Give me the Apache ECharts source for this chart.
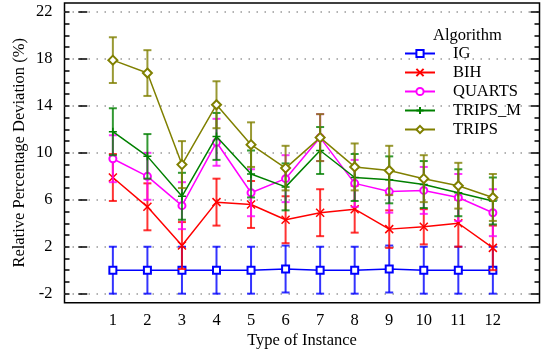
<!DOCTYPE html>
<html><head><meta charset="utf-8">
<script src="https://cdn.jsdelivr.net/npm/echarts@6/dist/echarts.min.js"></script>
<style>html,body{margin:0;padding:0;background:#fff}#c{width:541px;height:353px}</style>
</head><body><div id="c"></div>
<script>
const categories = [1,2,3,4,5,6,7,8,9,10,11,12];
const seriesNames = ['IG','BIH','QUARTS','TRIPS_M','TRIPS'];
const igValues = [0,0,0,0,0,0.1,0,0,0.1,0,0,0];
const igErrors = [2,2,2,2,2,2,2,2,2,2,2,2];
const bihValues = [7.9,5.4,2.1,5.8,5.6,4.3,4.9,5.2,3.5,3.7,4.0,1.9];
const bihErrors = [2,2,2,2,2,2,2,2,1.6,1.5,2,1.9];
const quartsValues = [9.5,8.0,5.5,10.9,6.6,7.8,11.3,7.4,6.7,6.8,6.2,4.9];
const quartsErrors = [2,2,2,2,2,2,2,2,1.8,2,2,2];
const tripsMValues = [11.8,9.7,6.3,11.4,8.2,7.1,10.2,7.9,7.7,7.3,6.6,5.9];
const tripsMErrors = [2,1.9,2,2,2,2,2,2,2,2,2,2];
const tripsValues = [17.9,16.8,9.0,14.1,10.7,8.7,11.3,8.8,8.5,7.8,7.2,6.2];
const tripsErrors = [1.95,1.95,2,2,1.9,1.9,2,2,2.1,2,1.95,2];
const yTickLabels = [-2,2,6,10,14,18,22];
const yMinorTicks = [-2,-1,0,1,2,3,4,5,6,7,8,9,10,11,12,13,14,15,16,17,18,19,20,21,22];

const colors = ['#0000ff','#ff0000','#ff00ff','#008000','#808000'];
const symbols = ['emptyRect','path://M0,0L10,10M10,0L0,10','emptyCircle','path://M5,0L5,10M0,5L10,5','emptyDiamond'];
const symSizes = [7,8,7,8,9];
const allValues = [igValues,bihValues,quartsValues,tripsMValues,tripsValues];
const allErrors = [igErrors,bihErrors,quartsErrors,tripsMErrors,tripsErrors];

const FONT = 'Liberation Serif';
const FS = 16.5;
const YMIN = -2.77, YMAX = 22.77;

function errRenderer(color){
  return function(params, api){
    const x = api.value(0), lo = api.value(1), hi = api.value(2);
    const p1 = api.coord([x, hi]), p2 = api.coord([x, lo]);
    const w = 4;
    const style = {stroke: color, lineWidth: 2, opacity: 0.8};
    return {type:'group', children:[
      {type:'line', shape:{x1:p1[0],y1:p1[1],x2:p2[0],y2:p2[1]}, style},
      {type:'line', shape:{x1:p1[0]-w,y1:p1[1],x2:p1[0]+w,y2:p1[1]}, style},
      {type:'line', shape:{x1:p2[0]-w,y1:p2[1],x2:p2[0]+w,y2:p2[1]}, style}
    ]};
  };
}

const series = [];
seriesNames.forEach((name, i) => {
  series.push({
    name: name + '_err', type: 'custom', xAxisIndex: 0, yAxisIndex: 0,
    renderItem: errRenderer(colors[i]),
    encode: {x: 0, y: [1, 2]},
    data: categories.map((c, k) => [c, allValues[i][k] - allErrors[i][k], allValues[i][k] + allErrors[i][k]]),
    z: 2 + i*2, silent: true
  });
  series.push({
    name: name, type: 'line', xAxisIndex: 0, yAxisIndex: 0,
    data: categories.map((c, k) => [c, allValues[i][k]]),
    symbol: symbols[i], symbolSize: symSizes[i],
    lineStyle: {color: colors[i], width: 1.5},
    itemStyle: {color: colors[i], borderColor: colors[i], borderWidth: 1.5},
    z: 3 + i*2, animation: false
  });
});

const yBase = {type:'value', min: YMIN, max: YMAX, gridIndex: 0};
const chart = echarts.init(document.getElementById('c'));
chart.setOption({
  animation: false,
  textStyle: {fontFamily: FONT},
  title: {text: 'Algorithm', left: 428, top: 22, textStyle: {fontFamily: FONT, fontSize: FS, fontWeight: 'normal', color: '#000'}},
  legend: {
    data: seriesNames, orient: 'vertical', left: 399, top: 40,
    itemWidth: 30, itemHeight: 9, itemGap: 2,
    textStyle: {fontFamily: FONT, fontSize: FS, color: '#000', padding: [0,0,0,13]}
  },
  grid: {left: 64.5, right: 1.5, top: 3, bottom: 50.3, outerBoundsMode: 'none', containLabel: false,
         show: true, borderColor: '#000', borderWidth: 1.5, backgroundColor: 'transparent'},
  xAxis: [{
    type: 'value', min: -0.4, max: 13.35,
    name: 'Type of Instance', nameLocation: 'middle', nameGap: 29, nameMoveOverlap: false,
    nameTextStyle: {fontFamily: FONT, fontSize: FS, color: '#000'},
    axisLine: {show: false}, axisTick: {show: false}, splitLine: {show: false},
    axisLabel: {customValues: categories, fontFamily: FONT, fontSize: FS, color: '#000', margin: 9}
  }],
  yAxis: [
    Object.assign({}, yBase, {
      position: 'left',
      name: 'Relative Percentage Deviation (%)', nameLocation: 'middle', nameGap: 36, nameRotate: 90,
      nameMoveOverlap: false,
      nameTextStyle: {fontFamily: FONT, fontSize: FS, color: '#000'},
      axisLine: {show: false},
      axisTick: {show: true, inside: true, length: 9, customValues: yTickLabels, lineStyle: {color: '#000', width: 1.5}},
      axisLabel: {customValues: yTickLabels, fontFamily: FONT, fontSize: FS, color: '#000', margin: 12},
      splitLine: {show: true, lineStyle: {color: '#999', width: 1.5, type: [1.5, 6.5]}}
    }),
    Object.assign({}, yBase, {
      position: 'left', axisLine: {show: false},
      axisTick: {show: true, inside: true, length: 5, customValues: yMinorTicks, lineStyle: {color: '#000', width: 1.5}},
      axisLabel: {show: false}, splitLine: {show: false}
    }),
    Object.assign({}, yBase, {
      position: 'right', axisLine: {show: false},
      axisTick: {show: true, inside: true, length: 9, customValues: yTickLabels, lineStyle: {color: '#000', width: 1.5}},
      axisLabel: {show: false}, splitLine: {show: false}
    }),
    Object.assign({}, yBase, {
      position: 'right', axisLine: {show: false},
      axisTick: {show: true, inside: true, length: 5, customValues: yMinorTicks, lineStyle: {color: '#000', width: 1.5}},
      axisLabel: {show: false}, splitLine: {show: false}
    })
  ],
  series: series
});
</script></body></html>
